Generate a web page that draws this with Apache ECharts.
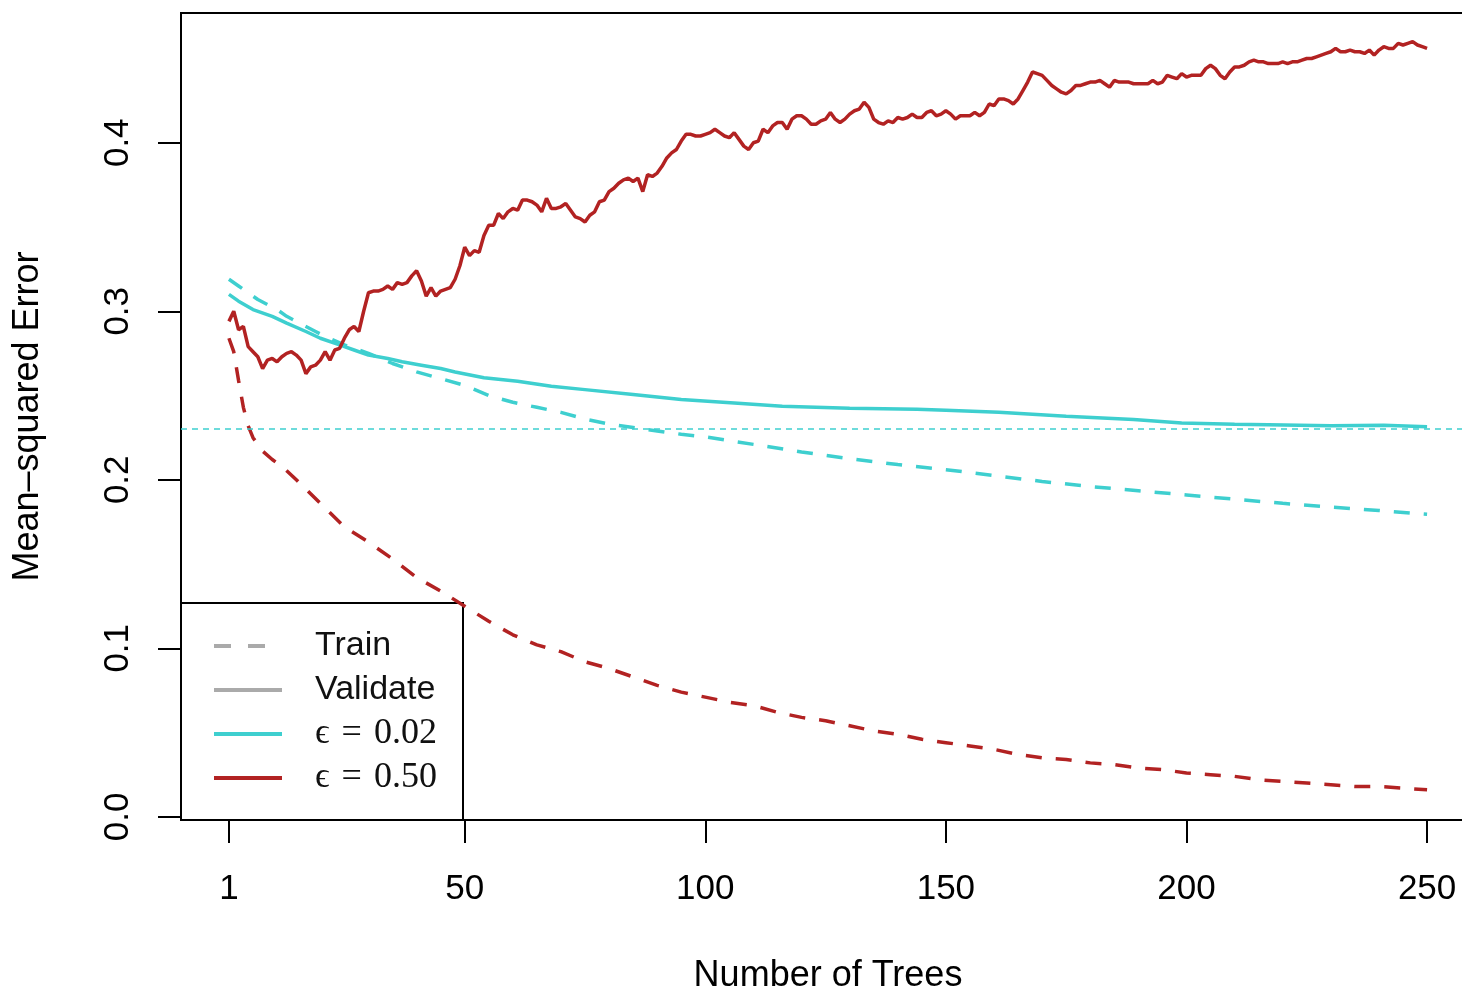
<!DOCTYPE html>
<html>
<head>
<meta charset="utf-8">
<script src="https://cdn.jsdelivr.net/npm/echarts@6/dist/echarts.min.js"></script>
<style>
  html, body { margin: 0; padding: 0; background: #ffffff; }
  #chart { width: 1462px; height: 990px; }
</style>
</head>
<body>
<div id="chart"></div>
<script>
// Number of trees in the ensemble (x domain)
const trees = Array.from({ length: 250 }, (_, i) => i + 1);

// Validation MSE, epsilon = 0.50 (one value per tree)
const validate050 = [
  0.294, 0.300, 0.289, 0.291, 0.279, 0.276, 0.273, 0.266, 0.271, 0.272,
  0.270, 0.273, 0.275, 0.276, 0.274, 0.271, 0.263, 0.267, 0.268, 0.271,
  0.276, 0.271, 0.277, 0.278, 0.284, 0.289, 0.291, 0.288, 0.300, 0.311,
  0.312, 0.312, 0.313, 0.315, 0.313, 0.317, 0.316, 0.317, 0.321, 0.324,
  0.318, 0.309, 0.314, 0.309, 0.312, 0.313, 0.314, 0.319, 0.327, 0.338,
  0.333, 0.336, 0.335, 0.345, 0.351, 0.351, 0.358, 0.355, 0.359, 0.361,
  0.360, 0.366, 0.366, 0.365, 0.363, 0.359, 0.367, 0.361, 0.361, 0.362,
  0.364, 0.360, 0.356, 0.355, 0.353, 0.357, 0.359, 0.365, 0.366, 0.371,
  0.373, 0.376, 0.378, 0.379, 0.377, 0.379, 0.371, 0.381, 0.380, 0.382,
  0.386, 0.391, 0.394, 0.396, 0.401, 0.405, 0.405, 0.404, 0.404, 0.405,
  0.406, 0.408, 0.406, 0.404, 0.403, 0.406, 0.402, 0.398, 0.396, 0.400,
  0.401, 0.408, 0.406, 0.410, 0.412, 0.412, 0.408, 0.414, 0.416, 0.416,
  0.414, 0.411, 0.411, 0.413, 0.414, 0.418, 0.414, 0.412, 0.414, 0.417,
  0.419, 0.420, 0.424, 0.421, 0.414, 0.412, 0.411, 0.413, 0.412, 0.415,
  0.414, 0.415, 0.417, 0.415, 0.415, 0.418, 0.419, 0.416, 0.417, 0.419,
  0.417, 0.414, 0.416, 0.416, 0.416, 0.418, 0.416, 0.418, 0.423, 0.422,
  0.426, 0.426, 0.425, 0.423, 0.426, 0.431, 0.436, 0.442, 0.441, 0.440,
  0.437, 0.434, 0.432, 0.430, 0.429, 0.431, 0.434, 0.434, 0.435, 0.436,
  0.436, 0.437, 0.435, 0.433, 0.437, 0.436, 0.436, 0.436, 0.435, 0.435,
  0.435, 0.435, 0.437, 0.435, 0.436, 0.440, 0.439, 0.438, 0.441, 0.439,
  0.440, 0.440, 0.440, 0.444, 0.446, 0.444, 0.440, 0.438, 0.442, 0.445,
  0.445, 0.446, 0.448, 0.449, 0.448, 0.448, 0.447, 0.447, 0.447, 0.448,
  0.447, 0.448, 0.448, 0.449, 0.450, 0.450, 0.451, 0.452, 0.453, 0.454,
  0.456, 0.454, 0.454, 0.455, 0.454, 0.454, 0.453, 0.455, 0.452, 0.455,
  0.457, 0.456, 0.456, 0.459, 0.458, 0.459, 0.460, 0.458, 0.457, 0.456
];

// Training MSE, epsilon = 0.50
const train050Trees = [1, 2, 3, 4, 5, 6, 8, 10, 12, 15, 20, 25, 30, 35, 40, 45, 50,
  55, 60, 65, 70, 75, 80, 85, 90, 95, 100, 105, 110, 115, 120, 125, 130, 135, 140,
  145, 150, 155, 160, 165, 170, 175, 180, 185, 190, 195, 200, 205, 210, 215, 220,
  225, 230, 235, 240, 245, 250];
const train050 = [0.284, 0.276, 0.259, 0.243, 0.232, 0.225, 0.217, 0.212, 0.208, 0.200,
  0.186, 0.172, 0.163, 0.153, 0.142, 0.134, 0.125, 0.116, 0.108, 0.102, 0.098, 0.092,
  0.088, 0.083, 0.078, 0.074, 0.071, 0.068, 0.066, 0.062, 0.059, 0.057, 0.054, 0.051,
  0.049, 0.046, 0.044, 0.042, 0.040, 0.037, 0.035, 0.034, 0.032, 0.031, 0.029, 0.028,
  0.026, 0.025, 0.024, 0.022, 0.021, 0.020, 0.019, 0.018, 0.018, 0.017, 0.016];

// Validation MSE, epsilon = 0.02
const validate002Trees = [1, 3, 6, 10, 13, 17, 20, 24, 27, 30, 34, 37, 41, 45, 48, 54,
  61, 68, 75, 85, 95, 106, 116, 130, 144, 150, 161, 175, 189, 199, 210, 217, 230, 241, 250];
const validate002 = [0.310, 0.306, 0.301, 0.297, 0.293, 0.288, 0.284, 0.280, 0.277,
  0.274, 0.272, 0.270, 0.268, 0.266, 0.264, 0.2605, 0.2585, 0.2555, 0.2535, 0.2506,
  0.2476, 0.2456, 0.2436, 0.2425, 0.2418, 0.2412, 0.2400, 0.2377, 0.2357, 0.2337,
  0.2330, 0.2327, 0.2321, 0.2323, 0.2314];

// Training MSE, epsilon = 0.02
const train002Trees = [1, 3, 5, 7, 9, 11, 13, 15, 17, 19, 21, 25, 30, 35, 40, 45, 50,
  55, 60, 65, 70, 75, 80, 85, 90, 95, 100, 110, 120, 130, 140, 150, 160, 170, 180, 190,
  200, 210, 220, 230, 240, 250];
const train002 = [0.319, 0.315, 0.311, 0.307, 0.304, 0.301, 0.297, 0.294, 0.291, 0.288,
  0.285, 0.280, 0.275, 0.269, 0.264, 0.260, 0.256, 0.250, 0.246, 0.243, 0.240, 0.236,
  0.233, 0.231, 0.229, 0.227, 0.2255, 0.221, 0.2165, 0.2125, 0.209, 0.206, 0.2025,
  0.199, 0.196, 0.1935, 0.191, 0.1885, 0.186, 0.1838, 0.1818, 0.1795];

// Horizontal reference level
const referenceMSE = 0.2316;

// Axis ticks
const xTicks = [1, 50, 100, 150, 200, 250];
const yTicks = [0, 0.1, 0.2, 0.3, 0.4];

const CYAN = '#3ecfcf';
const RED = '#b22222';
const GREY = '#aaaaaa';
const SANS = '"Liberation Sans", Arial, Helvetica, sans-serif';
const SERIF = '"Liberation Serif", "DejaVu Serif", serif';

const pairs = (xs, ys) => xs.map((x, i) => [x, ys[i]]);

const chart = echarts.init(document.getElementById('chart'), null, { renderer: 'canvas' });

const lineBase = { type: 'line', symbol: 'none', showSymbol: false, smooth: false, silent: true };

// Math-style spacing around "=" in the epsilon labels
const mathLabel = name => name.replace(' = ', '\u2004=\u2004');

chart.setOption({
  animation: false,
  backgroundColor: '#ffffff',
  grid: {
    left: 181, top: 13, width: 1294, height: 807,
    containLabel: false, outerBoundsMode: 'none',
    show: true, borderColor: '#000000', borderWidth: 2, backgroundColor: 'transparent'
  },
  xAxis: {
    type: 'value', min: -8.96, max: 259.96,
    axisLine: { show: true, onZero: false, lineStyle: { color: '#000', width: 2 } },
    axisTick: { show: true, customValues: xTicks, length: 23, lineStyle: { color: '#000', width: 2 } },
    axisLabel: {
      customValues: xTicks, formatter: v => String(v), margin: 52,
      fontSize: 35, fontFamily: SANS, color: '#000'
    },
    splitLine: { show: false },
    name: 'Number of Trees', nameLocation: 'middle', nameGap: 138,
    nameTextStyle: { fontSize: 36, fontFamily: SANS, color: '#000' }
  },
  yAxis: {
    type: 'value', min: -0.0019, max: 0.477,
    axisLine: { show: true, onZero: false, lineStyle: { color: '#000', width: 2 } },
    axisTick: { show: true, customValues: yTicks, length: 23, lineStyle: { color: '#000', width: 2 } },
    axisLabel: {
      customValues: yTicks, formatter: v => v.toFixed(1), rotate: 90, margin: 45,
      fontSize: 35, fontFamily: SANS, color: '#000'
    },
    splitLine: { show: false },
    name: 'Mean–squared Error', nameLocation: 'middle', nameGap: 135, nameRotate: 90,
    nameTextStyle: { fontSize: 36, fontFamily: SANS, color: '#000' }
  },
  legend: {
    orient: 'vertical', left: 181, top: 603,
    padding: [21, 18, 20, 31], itemGap: 0, itemWidth: 68, itemHeight: 14,
    backgroundColor: '#ffffff', borderColor: '#000000', borderWidth: 2, borderRadius: 0,
    selectedMode: false,
    itemStyle: { color: 'transparent', borderWidth: 0, opacity: 0 },
    lineStyle: { width: 4 },
    data: [
      { name: 'Train' },
      { name: 'Validate' },
      { name: 'ϵ = 0.02' },
      { name: 'ϵ = 0.50' }
    ],
    formatter: name => (name.indexOf('ϵ') === 0 ? '{m|' + mathLabel(name) + '}' : '{s|' + name + '}'),
    textStyle: {
      width: 130, lineHeight: 44, padding: [0, 0, 0, 28], color: '#000',
      rich: {
        s: { fontFamily: SANS, fontSize: 34, color: '#111', lineHeight: 44 },
        m: { fontFamily: SERIF, fontSize: 36, color: '#111', lineHeight: 44 }
      }
    }
  },
  series: [
    Object.assign({}, lineBase, {
      name: 'ϵ = 0.02 train', data: pairs(train002Trees, train002), z: 2,
      lineStyle: { color: CYAN, width: 3.5, type: [16, 14] }, itemStyle: { color: CYAN }
    }),
    Object.assign({}, lineBase, {
      name: 'ϵ = 0.02', data: pairs(validate002Trees, validate002), z: 3,
      lineStyle: { color: CYAN, width: 3.5, type: 'solid' }, itemStyle: { color: CYAN },
      markLine: {
        silent: true, symbol: 'none', label: { show: false },
        lineStyle: { color: CYAN, width: 1.6, type: [6, 5] },
        data: [{ yAxis: referenceMSE }]
      }
    }),
    Object.assign({}, lineBase, {
      name: 'ϵ = 0.50 train', data: pairs(train050Trees, train050), z: 4,
      lineStyle: { color: RED, width: 3.5, type: [16, 14] }, itemStyle: { color: RED }
    }),
    Object.assign({}, lineBase, {
      name: 'ϵ = 0.50', data: pairs(trees, validate050), z: 5,
      lineStyle: { color: RED, width: 3.5, type: 'solid' }, itemStyle: { color: RED }
    }),
    Object.assign({}, lineBase, {
      name: 'Train', data: [],
      lineStyle: { color: GREY, width: 4, type: [17, 17] }, itemStyle: { color: GREY }
    }),
    Object.assign({}, lineBase, {
      name: 'Validate', data: [],
      lineStyle: { color: GREY, width: 4, type: 'solid' }, itemStyle: { color: GREY }
    })
  ]
});
</script>
</body>
</html>
